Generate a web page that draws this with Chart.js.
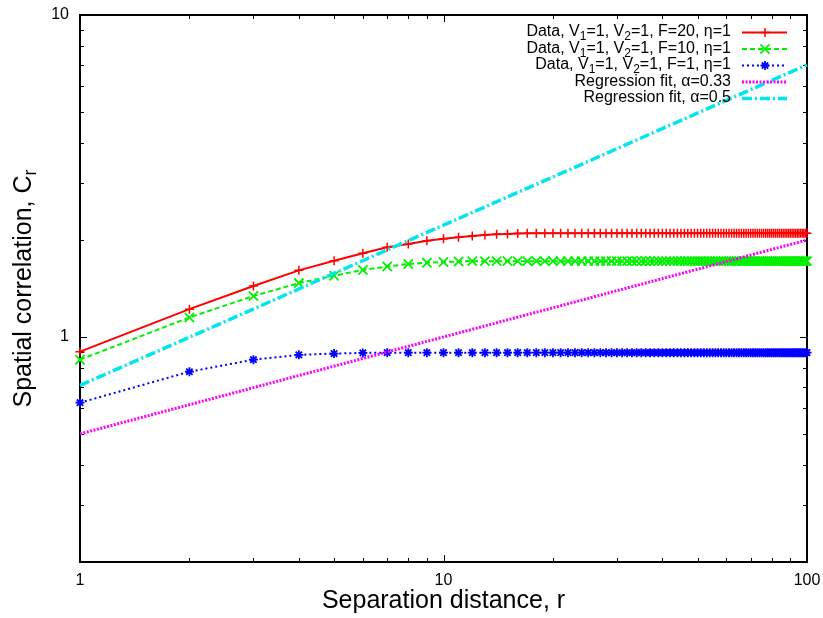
<!DOCTYPE html>
<html><head><meta charset="utf-8">
<script src="https://cdn.jsdelivr.net/npm/chart.js@4.4.0/dist/chart.umd.min.js"></script>
<style>html,body{margin:0;padding:0;background:#fff;}#wrap{width:823px;height:618px;}</style>
</head><body><div id="wrap"><canvas id="c" width="823" height="618"></canvas></div>
<script>
const separation = [1,2,3,4,5,6,7,8,9,10,11,12,13,14,15,16,17,18,19,20,21,22,23,24,25,26,27,28,29,30,31,32,33,34,35,36,37,38,39,40,41,42,43,44,45,46,47,48,49,50,51,52,53,54,55,56,57,58,59,60,61,62,63,64,65,66,67,68,69,70,71,72,73,74,75,76,77,78,79,80,81,82,83,84,85,86,87,88,89,90,91,92,93,94,95,96,97,98,99,100];
const corrF20 = [0.90,1.22,1.44,1.61,1.725,1.82,1.90,1.945,1.99,2.02,
 2.04,2.06,2.075,2.085,2.09,2.095,2.10,2.10,2.10,2.10,
 2.10,2.10,2.10,2.10,2.10,2.10,2.10,2.10,2.10,2.10,
 2.10,2.10,2.10,2.10,2.10,2.10,2.10,2.10,2.10,2.10,
 2.10,2.10,2.10,2.10,2.10,2.10,2.10,2.10,2.10,2.10,
 2.10,2.10,2.10,2.10,2.10,2.10,2.10,2.10,2.10,2.10,
 2.10,2.10,2.10,2.10,2.10,2.10,2.10,2.10,2.10,2.10,
 2.10,2.10,2.10,2.10,2.10,2.10,2.10,2.10,2.10,2.10,
 2.10,2.10,2.10,2.10,2.10,2.10,2.10,2.10,2.10,2.10,
 2.10,2.10,2.10,2.10,2.10,2.10,2.10,2.10,2.10,2.10];
const corrF10 = [0.85,1.15,1.34,1.47,1.55,1.615,1.655,1.685,1.70,1.71,
 1.715,1.72,1.72,1.72,1.72,1.72,1.72,1.72,1.72,1.72,
 1.72,1.72,1.72,1.72,1.72,1.72,1.72,1.72,1.72,1.72,
 1.72,1.72,1.72,1.72,1.72,1.72,1.72,1.72,1.72,1.72,
 1.72,1.72,1.72,1.72,1.72,1.72,1.72,1.72,1.72,1.72,
 1.72,1.72,1.72,1.72,1.72,1.72,1.72,1.72,1.72,1.72,
 1.72,1.72,1.72,1.72,1.72,1.72,1.72,1.72,1.72,1.72,
 1.72,1.72,1.72,1.72,1.72,1.72,1.72,1.72,1.72,1.72,
 1.72,1.72,1.72,1.72,1.72,1.72,1.72,1.72,1.72,1.72,
 1.72,1.72,1.72,1.72,1.72,1.72,1.72,1.72,1.72,1.72];
const corrF1 = [0.625,0.78,0.85,0.88,0.888,0.892,0.894,0.894,0.894,0.894,
 0.894,0.894,0.894,0.894,0.894,0.894,0.894,0.894,0.894,0.894,
 0.894,0.894,0.894,0.894,0.894,0.894,0.894,0.894,0.894,0.894,
 0.894,0.894,0.894,0.894,0.894,0.894,0.894,0.894,0.894,0.894,
 0.894,0.894,0.894,0.894,0.894,0.894,0.894,0.894,0.894,0.894,
 0.894,0.894,0.894,0.894,0.894,0.894,0.894,0.894,0.894,0.894,
 0.894,0.894,0.894,0.894,0.894,0.894,0.894,0.894,0.894,0.894,
 0.894,0.894,0.894,0.894,0.894,0.894,0.894,0.894,0.894,0.894,
 0.894,0.894,0.894,0.894,0.894,0.894,0.894,0.894,0.894,0.894,
 0.894,0.894,0.894,0.894,0.894,0.894,0.894,0.894,0.894,0.894];
const fitR = [1, 100];
const fitAlpha033 = [0.50, 2.00];
const fitAlpha05 = [0.707, 7.0];
const xMajorTicks = [1, 10, 100];
const xMinorTicks = [2,3,4,5,6,7,8,9,20,30,40,50,60,70,80,90];
const xTickLabels = ['1', '10', '100'];
const yMajorTicks = [1, 10];
const yMinorTicks = [0.2,0.3,0.4,0.5,0.6,0.7,0.8,0.9,2,3,4,5,6,7,8,9];
const yTickLabels = ['1', '10'];
const legendLabels = [
  [['Data, V'],['1',1],['=1, V'],['2',1],['=1, F=20, η=1']],
  [['Data, V'],['1',1],['=1, V'],['2',1],['=1, F=10, η=1']],
  [['Data, V'],['1',1],['=1, V'],['2',1],['=1, F=1, η=1']],
  [['Regression fit, α=0.33']],
  [['Regression fit, α=0.5']]
];
const xTitle = 'Separation distance, r';
const yTitle = [['Spatial correlation, C'],['r',1]];

const FONT = '"Liberation Sans", Arial, sans-serif';
const pts = (xs, ys) => xs.map((x, i) => ({x: x, y: ys[i]}));

const frameTicks = {
  id: 'frameTicks',
  beforeDatasetsDraw(chart) {
    const ctx = chart.ctx, a = chart.chartArea;
    const xs = chart.scales.x, ys = chart.scales.y;
    ctx.save();
    ctx.strokeStyle = '#000'; ctx.lineWidth = 1;
    ctx.beginPath();
    const xt = xMajorTicks.map(v => [v, 7]).concat(xMinorTicks.map(v => [v, 4]));
    xt.forEach(([v, l]) => {
      const p = Math.round(xs.getPixelForValue(v)) + 0.5;
      ctx.moveTo(p, a.bottom); ctx.lineTo(p, a.bottom - l);
      ctx.moveTo(p, a.top); ctx.lineTo(p, a.top + l);
    });
    const yt = yMajorTicks.map(v => [v, 7]).concat(yMinorTicks.map(v => [v, 4]));
    yt.forEach(([v, l]) => {
      const p = Math.round(ys.getPixelForValue(v)) + 0.5;
      ctx.moveTo(a.left, p); ctx.lineTo(a.left + l, p);
      ctx.moveTo(a.right, p); ctx.lineTo(a.right - l, p);
    });
    ctx.stroke();
    ctx.lineWidth = 2;
    ctx.strokeRect(a.left, a.top, a.right - a.left, a.bottom - a.top);
    ctx.restore();
  },
  afterDraw(chart) {
    const ctx = chart.ctx, a = chart.chartArea;
    ctx.save();
    ctx.fillStyle = '#000';
    const segWidth = (segs, size) => segs.reduce((w, s) => {
      ctx.font = (s[1] ? Math.round(size * 0.72) : size) + 'px ' + FONT;
      return w + ctx.measureText(s[0]).width;
    }, 0);
    const drawSegs = (segs, x, y, size) => {
      ctx.textBaseline = 'middle'; ctx.textAlign = 'left';
      segs.forEach(s => {
        ctx.font = (s[1] ? Math.round(size * 0.72) : size) + 'px ' + FONT;
        ctx.fillText(s[0], x, y + (s[1] ? size * 0.3 : 0));
        x += ctx.measureText(s[0]).width;
      });
    };
    const ds = chart.data.datasets;
    legendLabels.forEach((segs, i) => {
      const y = 32 + i * 16.5;
      const w = segWidth(segs, 16);
      drawSegs(segs, 731 - w, y, 16);
      const d = ds[i];
      ctx.save();
      ctx.strokeStyle = d.borderColor; ctx.lineWidth = d.borderWidth;
      ctx.setLineDash(d.borderDash || []);
      ctx.beginPath(); ctx.moveTo(742, y + 0.5); ctx.lineTo(787, y + 0.5); ctx.stroke();
      ctx.setLineDash([]);
      if (d.pointRadius > 0) {
        ctx.lineWidth = d.pointBorderWidth;
        Chart.helpers.drawPoint(ctx, {pointStyle: d.pointStyle, radius: d.pointRadius, borderWidth: d.pointBorderWidth, rotation: 0}, 765, y + 0.5);
      }
      ctx.restore();
    });
    ctx.font = '25px ' + FONT; ctx.textAlign = 'center'; ctx.textBaseline = 'middle';
    ctx.fillText(xTitle, (a.left + a.right) / 2, 601);
    ctx.save();
    ctx.translate(24, (a.top + a.bottom) / 2);
    ctx.rotate(-Math.PI / 2);
    const tw = segWidth(yTitle, 25);
    drawSegs(yTitle, -tw / 2, 0, 25);
    ctx.restore();
    ctx.restore();
  }
};

new Chart(document.getElementById('c'), {
  type: 'line',
  data: {
    datasets: [
      {data: pts(separation, corrF20), borderColor: '#ff0000', borderWidth: 2, pointStyle: 'cross', pointRadius: 4.5, pointBorderWidth: 1.5, pointBorderColor: '#ff0000', order: 5},
      {data: pts(separation, corrF10), borderColor: '#00f000', borderWidth: 2, borderDash: [5, 3], pointStyle: 'crossRot', pointRadius: 6.5, pointBorderWidth: 1.8, pointBorderColor: '#00f000', order: 4},
      {data: pts(separation, corrF1), borderColor: '#0000ff', borderWidth: 2, borderDash: [2, 3], pointStyle: 'star', pointRadius: 4.5, pointBorderWidth: 1.8, pointBorderColor: '#0000ff', order: 3},
      {data: pts(fitR, fitAlpha033), borderColor: '#ff00ff', borderWidth: 3, borderDash: [2, 1.5], pointRadius: 0, order: 2},
      {data: pts(fitR, fitAlpha05), borderColor: '#00e6f0', borderWidth: 3.5, borderDash: [10, 3, 2, 3], pointRadius: 0, order: 1}
    ].map(d => Object.assign({fill: false, tension: 0, clip: false, pointHoverRadius: 0}, d))
  },
  options: {
    responsive: false, animation: false, devicePixelRatio: 1,
    layout: {padding: {left: 0, right: 16, top: 15, bottom: 0}},
    plugins: {legend: {display: false}, tooltip: {enabled: false}},
    events: [],
    scales: {
      x: {
        type: 'logarithmic', min: 1, max: 100,
        grid: {display: false}, border: {display: false},
        afterBuildTicks: s => { s.ticks = xMajorTicks.map(v => ({value: v})); },
        afterFit: s => { s.height = 56; s.paddingLeft = 0; s.paddingRight = 0; },
        ticks: {autoSkip: false, maxRotation: 0, padding: 1, color: '#000', font: {family: FONT, size: 16},
          callback: (v) => { const i = xMajorTicks.indexOf(v); return i >= 0 ? xTickLabels[i] : ''; }}
      },
      y: {
        type: 'logarithmic', min: 0.2, max: 10,
        grid: {display: false}, border: {display: false},
        afterBuildTicks: s => { s.ticks = yMajorTicks.map(v => ({value: v})); },
        afterFit: s => { s.width = 80; s.paddingTop = 0; s.paddingBottom = 0; },
        ticks: {autoSkip: false, padding: 3, color: '#000', font: {family: FONT, size: 16},
          callback: (v) => { const i = yMajorTicks.indexOf(v); return i >= 0 ? yTickLabels[i] : ''; }}
      }
    }
  },
  plugins: [frameTicks]
});
</script></body></html>
